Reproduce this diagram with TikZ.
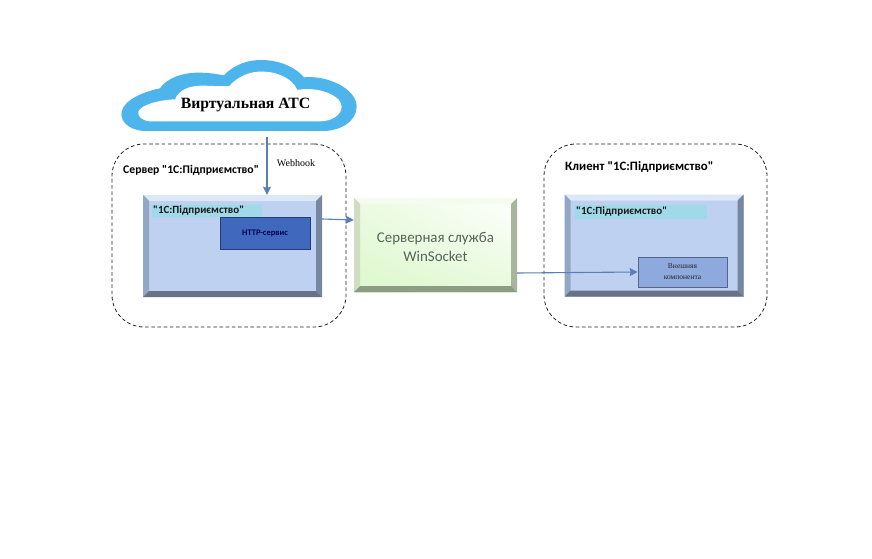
\documentclass[tikz,border=0pt]{standalone}
\usepackage{fontspec}
\setmainfont{Liberation Serif}
\newfontfamily\carlitofont{Carlito}
\usetikzlibrary{calc,arrows.meta,shadings}
\definecolor{cloudblue}{HTML}{4DB5EC}
\definecolor{faceblue}{HTML}{BED1F1}
\definecolor{labelblue}{HTML}{A0DAE8}
\definecolor{httpblue}{HTML}{4069BE}
\definecolor{extblue}{HTML}{8EA9DD}
\definecolor{arrowblue}{HTML}{5B7FB5}
\definecolor{dashk}{HTML}{222222}
\definecolor{btop}{HTML}{DCE7F8}
\definecolor{bleft}{HTML}{92A6C6}
\definecolor{bright}{HTML}{76879F}
\definecolor{bbottom}{HTML}{667486}
\definecolor{gtop}{HTML}{F6FBF0}
\definecolor{gleft}{HTML}{D0DCC4}
\definecolor{gright}{HTML}{A8B59C}
\definecolor{gbottom}{HTML}{8E9C84}
\definecolor{gface}{HTML}{DDF8CC}
\definecolor{wstextc}{HTML}{55645A}
\tikzset{
  bevelbox/.style n args={4}{draw=none,inner sep=0pt,path picture={
    \coordinate (nw) at (path picture bounding box.north west);
    \coordinate (ne) at (path picture bounding box.north east);
    \coordinate (sw) at (path picture bounding box.south west);
    \coordinate (se) at (path picture bounding box.south east);
    \fill[#1] (nw) -- (ne) -- ($(ne)+(-6,6)$) -- ($(nw)+(6,6)$) -- cycle;
    \fill[#2] (nw) -- (sw) -- ($(sw)+(6,-6)$) -- ($(nw)+(6,6)$) -- cycle;
    \fill[#3] (ne) -- (se) -- ($(se)+(-6,-6)$) -- ($(ne)+(-6,6)$) -- cycle;
    \fill[#4] (sw) -- (se) -- ($(se)+(-6,-6)$) -- ($(sw)+(6,-6)$) -- cycle;
  }},
  bluebox/.style={bevelbox={{btop}{bleft}{bright}{bbottom}}, fill=faceblue, minimum width=179, minimum height=102},
  greenbox/.style={bevelbox={{gtop}{gleft}{gright}{gbottom}},
    lower left=gface, lower right=gface!70!white, upper left=gface!60!white, upper right=white, minimum width=163, minimum height=94},
  zone/.style={draw=dashk,line width=0.8,rounded corners=32,dash pattern=on 3.6 off 2.6,inner sep=0pt},
  zonetitle/.style={font=\carlitofont\bfseries\fontsize{#1}{14}\selectfont,inner sep=0pt,anchor=west},
  tagbox/.style={fill=labelblue,inner sep=0pt,font=\carlitofont\bfseries\fontsize{11}{12}\selectfont,text=black!90,anchor=west,text width=#1,align=left},
  arrowline/.style={draw=arrowblue,line width=1.1,-{Stealth[length=8,width=8,inset=1]}},
  innerbox/.style={draw=#1!60!black,fill=#1,inner sep=0pt,line width=0.7,align=center},
}
\begin{document}
\begin{tikzpicture}[x=1pt,y=-1pt]
\useasboundingbox (0,0) rectangle (872,559);
\fill[white] (0,0) rectangle (872,559);
% cloud
\begin{scope}[shift={(100,50)},x=0.3333pt,y=-0.3333pt]
\fill[cloudblue] (130,243) .. controls (80,238) and (60,210) .. (65,185)
  .. controls (72,150) and (130,125) .. (180,115)
  .. controls (200,85) and (245,68) .. (295,68)
  .. controls (325,68) and (350,72) .. (372,76)
  .. controls (400,45) and (445,28) .. (490,30)
  .. controls (545,32) and (590,55) .. (612,82)
  .. controls (680,75) and (770,115) .. (770,170)
  .. controls (770,215) and (720,243) .. (670,243) -- cycle;
\fill[white] (150,214) .. controls (125,212) and (112,198) .. (115,185)
  .. controls (122,165) and (175,150) .. (225,148)
  .. controls (235,122) and (265,107) .. (305,107)
  .. controls (335,107) and (365,110) .. (388,108)
  .. controls (410,82) and (450,62) .. (490,65)
  .. controls (540,66) and (580,90) .. (592,120)
  .. controls (650,108) and (725,135) .. (725,170)
  .. controls (725,195) and (695,214) .. (660,214) -- cycle;
\end{scope}
\node[inner sep=0pt,font=\bfseries\fontsize{15.7}{17}\selectfont] (cloudtext) at (245.5,105) {Виртуальная АТС};
\coordinate (cloudout) at (267,137);
% zones
\node[zone,minimum width=234,minimum height=183] (zoneL) at (229,235.5) {};
\node[zone,minimum width=223,minimum height=183] (zoneR) at (655.5,235.5) {};
\node[zonetitle=11.7] (titleL) at (123,170) {Сервер "1С:Підприємство"};
\node[zonetitle=12.8] (titleR) at (565,167) {Клиент "1С:Підприємство"};
\node[inner sep=0pt,font=\fontsize{10}{11}\selectfont] (webhook) at (296,163) {Webhook};
% boxes
\node[bluebox] (srv) at (232.5,246) {};
\node[bluebox] (cli) at (654,245.5) {};
\node[greenbox] (ws) at (435.5,245) {};
\node[inner sep=0pt,align=center,text=wstextc,font=\carlitofont\fontsize{14.9}{19}\selectfont] (wstext) at (435.5,246.5) {Серверная служба\\WinSocket};
% labels
\node[tagbox=110pt,minimum height=12] (tagL) at (152,211) {\hspace{1pt}"1С:Підприємство"};
\node[tagbox=132pt,minimum height=14] (tagR) at (575,212) {\hspace{1pt}"1С:Підприємство"};
% inner nodes
\node[innerbox=httpblue,minimum width=90,minimum height=32,text=blue!35!black,font=\carlitofont\bfseries\fontsize{8.5}{10}\selectfont] (http) at (265,233) {HTTP-сервис};
\node[innerbox=extblue,minimum width=89,minimum height=30,text=black!85,font=\fontsize{7.5}{11}\selectfont] (ext) at (682.5,272) {Внешняя\\компонента};
% connectors
\draw[arrowline] (cloudout) -- (cloudout |- srv.north);
\draw[arrowline] ($(srv.east)+(0,-27)$) -- ($(ws.west)+(0,-25)$);
\draw[arrowline] ($(ws.east)+(0,28)$) -- (ext.west);
\end{tikzpicture}
\end{document}
